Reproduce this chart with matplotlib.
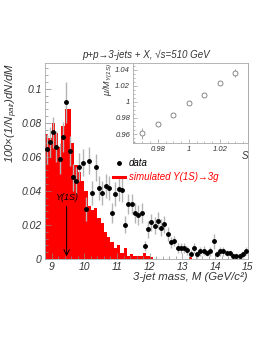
import numpy as np
import matplotlib
matplotlib.use("Agg")
import matplotlib.pyplot as plt
from matplotlib.ticker import MultipleLocator, FuncFormatter
from matplotlib.lines import Line2D

plt.rcParams['font.family'] = ['Liberation Sans', 'DejaVu Sans']
plt.rcParams['font.style'] = 'italic'
plt.rcParams['mathtext.fontset'] = 'custom'
plt.rcParams['mathtext.rm'] = 'Liberation Sans:italic'
plt.rcParams['mathtext.it'] = 'Liberation Sans:italic'

# --- data: 3-jet mass spectrum, 0.1 GeV bins from 8.8 to 15 ---
mass_edges = np.round(np.arange(8.8, 15.05, 0.1), 2)
mass_centers = 0.5 * (mass_edges[:-1] + mass_edges[1:])

data_vals = [0.0646, 0.0688, 0.0743, 0.066, 0.059, 0.0716, 0.092, 0.0634, 0.048, 0.046,
             0.054, 0.0565, 0.0295, 0.0577, 0.0387, 0.0538, 0.0417, 0.0387, 0.0429, 0.0417,
             0.027, 0.038, 0.041, 0.0405, 0.020, 0.0324, 0.0324, 0.027, 0.026, 0.027,
             0.0075, 0.0175, 0.0215, 0.0196, 0.0225, 0.0184, 0.0205, 0.0146, 0.0097, 0.0107,
             0.0063, 0.0063, 0.0063, 0.0051, 0.0031, 0.0063, 0.0027, 0.0045, 0.005, 0.0035,
             0.0045, 0.0103, 0.003, 0.0045, 0.0045, 0.0035, 0.0035, 0.0018, 0.0018, 0.0018,
             0.0028, 0.0048]
data_err = [0.009, 0.009, 0.009, 0.009, 0.009, 0.009, 0.012, 0.009, 0.008, 0.008,
            0.008, 0.008, 0.007, 0.008, 0.007, 0.008, 0.007, 0.007, 0.007, 0.007,
            0.006, 0.007, 0.007, 0.007, 0.005, 0.006, 0.006, 0.006, 0.006, 0.006,
            0.003, 0.005, 0.005, 0.005, 0.005, 0.005, 0.005, 0.004, 0.003, 0.003,
            0.003, 0.003, 0.003, 0.0025, 0.002, 0.003, 0.002, 0.0025, 0.0025, 0.002,
            0.0025, 0.0045, 0.002, 0.0025, 0.0025, 0.002, 0.002, 0.0015, 0.0015, 0.0015,
            0.002, 0.0025]
sim_vals = [0.0735, 0.071, 0.080, 0.074, 0.066, 0.078, 0.088, 0.088, 0.068, 0.055,
            0.051, 0.046, 0.040, 0.031, 0.029, 0.030, 0.024, 0.021, 0.016, 0.013,
            0.010, 0.0065, 0.008, 0.0035, 0.0065, 0.0015, 0.003, 0.0015, 0.002, 0.0015,
            0.0035, 0.0015, 0.001, 0, 0, 0, 0, 0, 0, 0,
            0, 0, 0, 0, 0.0012, 0, 0, 0, 0, 0,
            0, 0, 0, 0, 0, 0, 0, 0, 0, 0,
            0, 0]

# inset: fitted peak position vs energy scale
scale_s = [0.97, 0.98, 0.99, 1.00, 1.01, 1.02, 1.03]
mu_ratio = [0.961, 0.972, 0.984, 0.999, 1.009, 1.024, 1.036]
mu_err = [0.007, 0.002, 0.0015, 0.0015, 0.002, 0.002, 0.005]

upsilon_mass = 9.46

txt = '#333333'
fig = plt.figure(figsize=(2.68, 3.46), dpi=100)
ax = fig.add_axes([0.168, 0.2514, 0.757, 0.566])

ax.stairs(sim_vals, mass_edges, fill=True, color='#ff0000', lw=0)
ax.errorbar(mass_centers, data_vals, yerr=data_err, fmt='o', ms=2.5, color='black',
            ecolor='#b4b4b4', elinewidth=1.0, capsize=0, zorder=3)

ax.annotate('', xy=(upsilon_mass, 0.0), xytext=(upsilon_mass, 0.0325),
            arrowprops=dict(arrowstyle='->', color='black', lw=0.7))
ax.text(upsilon_mass, 0.0335, 'Υ(1S)', ha='center', va='bottom', fontsize=6.5, color='black')

ax.set_xlim(8.8, 15)
ax.set_ylim(0, 0.115)
ax.xaxis.set_major_locator(MultipleLocator(1))
ax.xaxis.set_minor_locator(MultipleLocator(0.2))
ax.yaxis.set_major_locator(MultipleLocator(0.02))
ax.yaxis.set_minor_locator(MultipleLocator(0.004))
ax.yaxis.set_major_formatter(FuncFormatter(lambda v, p: '%g' % round(v, 3)))
ax.tick_params(which='both', direction='in', colors='#888888', labelcolor=txt, labelsize=7.5,
               width=0.5, pad=2.5)
ax.tick_params(which='major', length=4)
ax.tick_params(which='minor', length=2)
for s in ax.spines.values():
    s.set_color('#aaaaaa')
    s.set_linewidth(0.6)

ax.set_xlabel('3-jet mass, M (GeV/c²)', fontsize=8.2, color=txt, loc='right', labelpad=0)
ax.set_ylabel('100×(1/N$_{pair}$)dN/dM', fontsize=8.2, color=txt, loc='top', labelpad=1)
ax.set_title('p+p→3-jets + X, √s=510 GeV', fontsize=7, color=txt, pad=4)

handles = [Line2D([], [], marker='o', ls='', color='black', ms=2.5),
           Line2D([], [], color='#ff0000', lw=2.2)]
leg = ax.legend(handles, ['data', 'simulated Υ(1S)→3g'], loc='upper left',
                bbox_to_anchor=(0.29, 0.56), frameon=False, fontsize=7,
                handlelength=1.3, handletextpad=0.4, labelspacing=0.45,
                labelcolor=['black', '#ff0000'])

# inset
ins = fig.add_axes([0.496, 0.587, 0.429, 0.2304])
ins.errorbar(scale_s, mu_ratio, yerr=mu_err, fmt='o', ms=3.6, mfc='white', mec='#777777',
             mew=0.6, ecolor='#999999', elinewidth=0.6, capsize=0)
ins.set_xlim(0.964, 1.038)
ins.set_ylim(0.949, 1.048)
ins.xaxis.set_major_locator(MultipleLocator(0.02))
ins.xaxis.set_minor_locator(MultipleLocator(0.005))
ins.yaxis.set_major_locator(MultipleLocator(0.02))
ins.yaxis.set_minor_locator(MultipleLocator(0.005))
fmt = FuncFormatter(lambda v, p: '%g' % round(v, 3))
ins.xaxis.set_major_formatter(fmt)
ins.yaxis.set_major_formatter(fmt)
ins.tick_params(which='both', direction='in', colors='#888888', labelcolor=txt, labelsize=5.5,
                width=0.4, pad=2)
ins.tick_params(which='major', length=3)
ins.tick_params(which='minor', length=1.5)
for s in ins.spines.values():
    s.set_color('#aaaaaa')
    s.set_linewidth(0.6)
ins.set_xlabel('S', fontsize=7, color=txt, loc='right', labelpad=-1)
ins.set_ylabel('μ/M$_{\\Upsilon(1S)}$', fontsize=6.5, color=txt, loc='top', labelpad=0)

fig.savefig('out.png', dpi=100)
